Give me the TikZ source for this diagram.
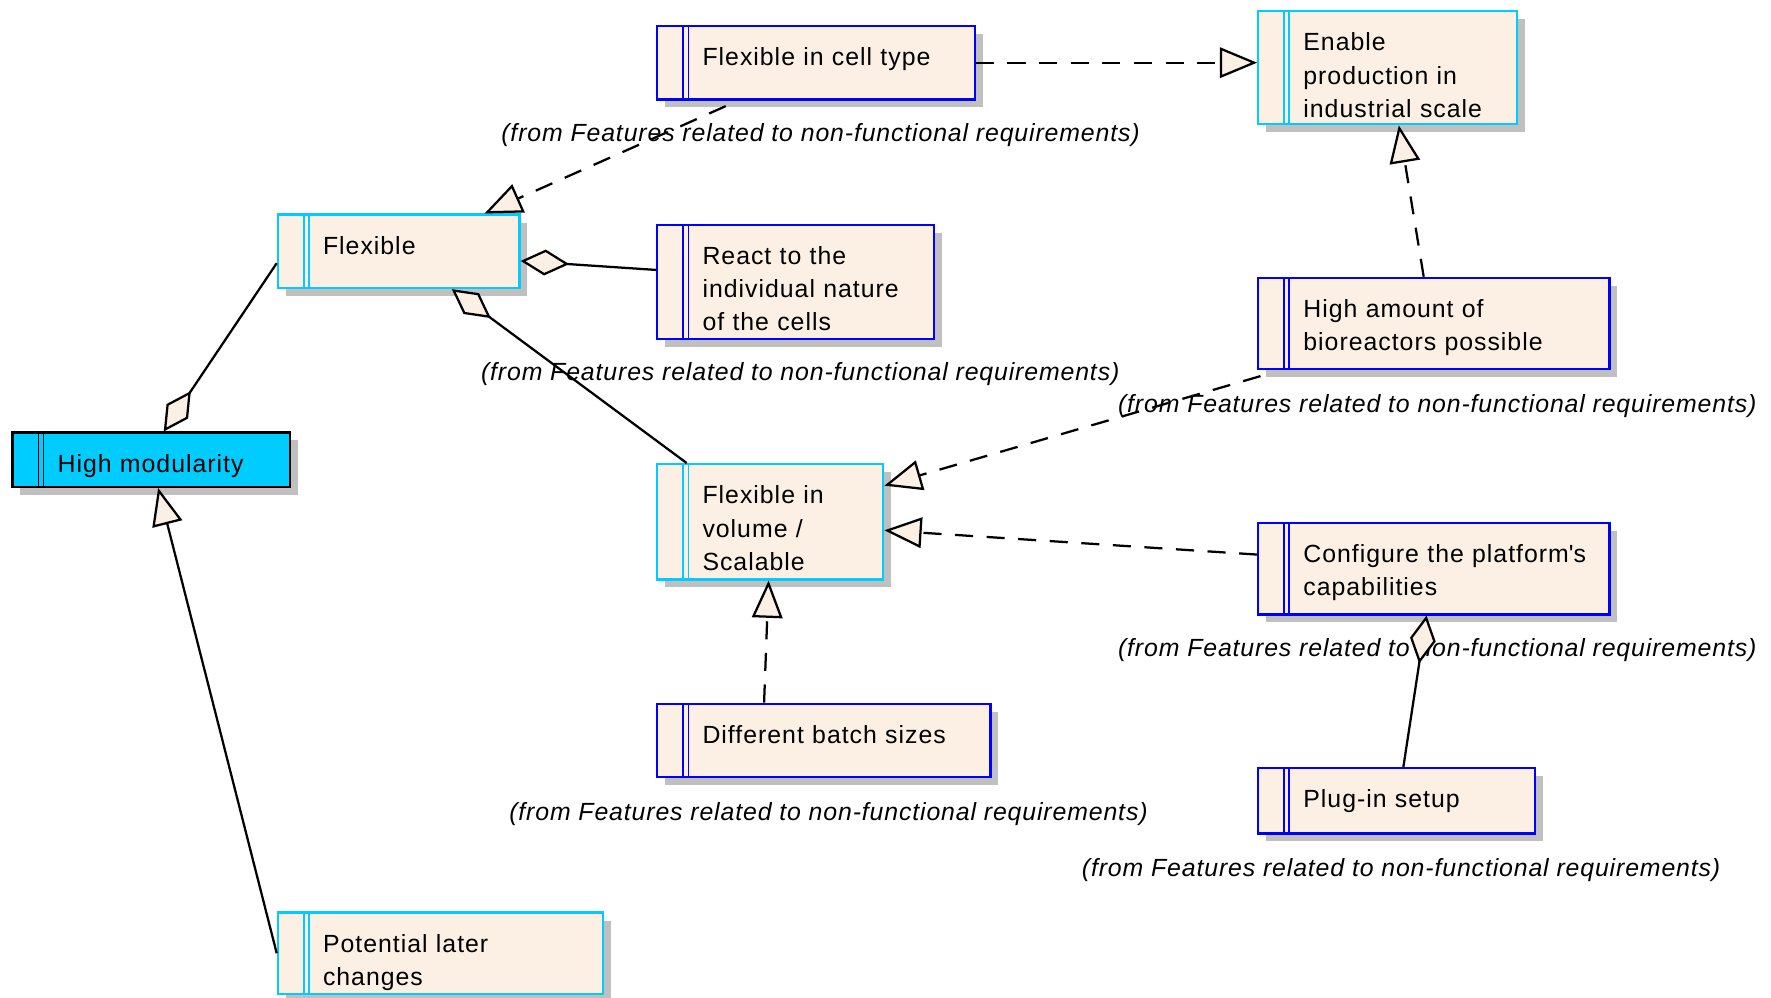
\documentclass[tikz,border=0pt]{standalone}
\usepackage{fontspec}
\setmainfont{Liberation Sans}[LetterSpace=4]
\newfontfamily\lblfont{Liberation Sans}[LetterSpace=3.5]
\usepackage{tikz}
\usetikzlibrary{positioning,arrows.meta,shadows}

\definecolor{featfill}{RGB}{251,240,227}
\definecolor{fcyan}{RGB}{0,204,255}
\definecolor{fblue}{RGB}{0,0,255}
\definecolor{shadowgray}{RGB}{192,192,192}

\begin{document}
\begin{tikzpicture}[
  x=1pt, y=-1pt,
  feat/.style={draw=#1, line width=2pt, fill=featfill, anchor=north west,
               inner sep=0pt, text height=35pt, align=left,
               font=\fontsize{22}{29.5}\selectfont,
               execute at begin node={\leftskip=40pt\relax},
               drop shadow={shadow xshift=7pt, shadow yshift=-7pt, fill=shadowgray, opacity=1},
               path picture={\draw[#1, line width=1.5pt]
                 ([xshift=23pt]path picture bounding box.north west) -- ([xshift=23pt]path picture bounding box.south west)
                 ([xshift=27.5pt]path picture bounding box.north west) -- ([xshift=27.5pt]path picture bounding box.south west);}},
  cyanbox/.style={feat=fcyan},
  bluebox/.style={feat=fblue},
  fromlbl/.style={font=\fontsize{22}{26}\selectfont\lblfont\itshape, inner sep=0pt},
  aggr/.style={line width=2pt, -{Diamond[length=43pt, width=23pt, fill=featfill]}},
  real/.style={line width=2pt, dash pattern=on 16pt off 12pt, -{Triangle[length=33pt, width=27pt, fill=featfill]}},
  gen/.style={line width=2pt, -{Triangle[length=33pt, width=27pt, fill=featfill]}}
]
\useasboundingbox (0,0) rectangle (1568,883);

% Left column
\node[feat=black, fill=fcyan, text width=246pt, text depth=13pt] (highmod) at (10,382) {High modularity};
\node[cyanbox, text width=214pt, text depth=30pt] (flexible) at (245,189) {Flexible};
\node[cyanbox, text width=288pt, text depth=37pt] (potential) at (245,807) {Potential later\\changes};

% Middle column
\node[bluebox, text width=281pt, text depth=30pt] (celltype) at (581,22) {Flexible in cell type};
\node[bluebox, text width=245pt, text depth=66pt] (react) at (581,198) {React to the\\individual nature\\of the cells};
\node[cyanbox, text width=200pt, text depth=67pt] (volume) at (581,410) {Flexible in\\volume /\\Scalable};
\node[bluebox, text width=295pt, text depth=30pt] (batch) at (581,622) {Different batch sizes};

% Right column
\node[cyanbox, text width=229pt, text depth=65pt] (enable) at (1113,9) {Enable\\production in\\industrial scale};
\node[bluebox, text width=311pt, text depth=46pt] (highamount) at (1113,245) {High amount of\\bioreactors possible};
\node[bluebox, text width=311pt, text depth=46pt] (configure) at (1113,462) {Configure the platform\textquotesingle s\\capabilities};
\node[bluebox, text width=245pt, text depth=23pt] (plugin) at (1113,679) {Plug-in setup};

% Package labels
\node[fromlbl, below=20pt of celltype, xshift=4pt] (fromcelltype) {(from Features related to non-functional requirements)};
\node[fromlbl, below=20pt of react, xshift=4pt] (fromreact) {(from Features related to non-functional requirements)};
\node[fromlbl, below=21pt of highamount, xshift=3pt] (fromhighamount) {(from Features related to non-functional requirements)};
\node[fromlbl, below=20pt of configure, xshift=3pt] (fromconfigure) {(from Features related to non-functional requirements)};
\node[fromlbl, below=21pt of batch, xshift=4pt] (frombatch) {(from Features related to non-functional requirements)};
\node[fromlbl, below=21pt of plugin, xshift=4pt] (fromplugin) {(from Features related to non-functional requirements)};

% Aggregations
\draw[aggr] ([yshift=-10.5pt]flexible.west) -- ([xshift=11pt]highmod.north);
\draw[aggr] ([yshift=10.5pt]react.west) -- ([yshift=-8.5pt]flexible.east);
\draw[aggr] ([xshift=-74pt]volume.north) -- ([xshift=47pt]flexible.south);
\draw[aggr] ([xshift=6pt]plugin.north) -- ([xshift=-6.5pt]configure.south);

% Realizations
\draw[real] ([xshift=-80pt,yshift=-5pt]celltype.south) -- ([xshift=76pt]flexible.north);
\draw[real] (celltype.east) -- (celltype.east -| enable.west);
\draw[real] ([xshift=-9pt]highamount.north) -- ([xshift=10pt]enable.south);
\draw[real] ([xshift=3pt,yshift=-5pt]highamount.south west) -- ([yshift=-20pt]volume.north east);
\draw[real] ([yshift=12.5pt]configure.west) -- ([yshift=-7.5pt]volume.east);
\draw[real] ([xshift=-53pt]batch.north) -- ([xshift=-1.5pt]volume.south);

% Generalization
\draw[gen] (potential.west) -- ([xshift=6pt]highmod.south);
\end{tikzpicture}
\end{document}
